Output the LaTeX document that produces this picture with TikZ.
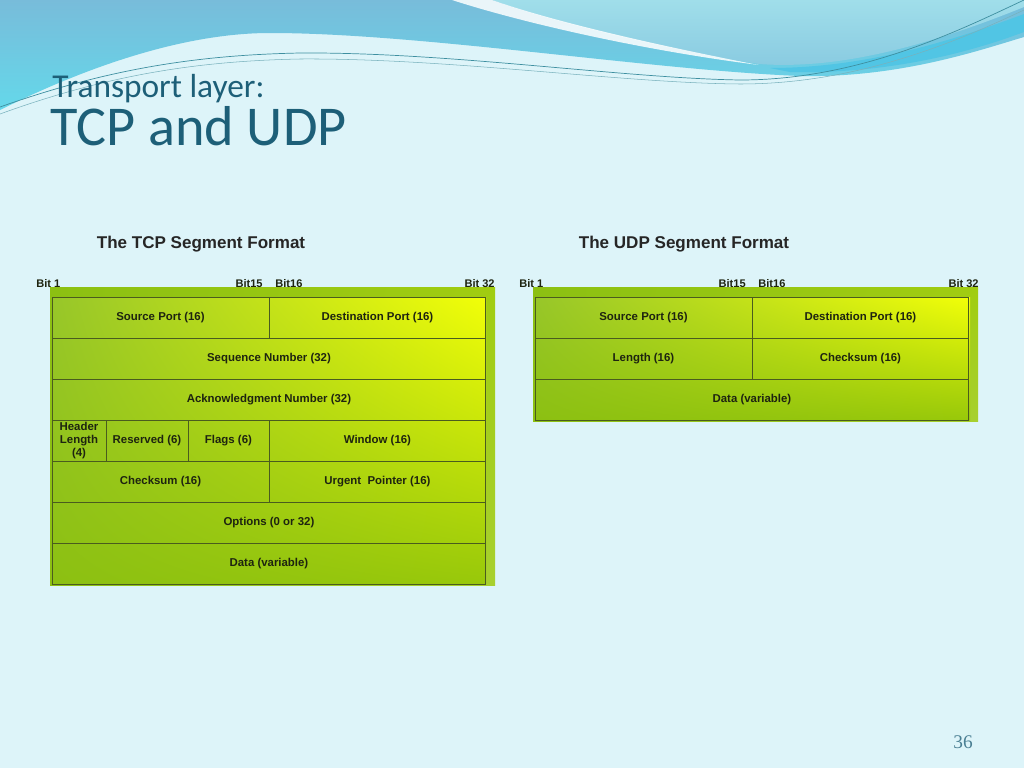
\documentclass[tikz,border=0pt]{standalone}
\usepackage{fontspec}
\setmainfont{Carlito}
\newfontfamily\arialfont{Liberation Sans}
\newfontfamily\numfont{Liberation Serif}
\usetikzlibrary{positioning, shadings}
\definecolor{BG_PALE}{HTML}{DDF4F9}
\definecolor{WAVE_TOP}{HTML}{78BCDA}
\definecolor{WAVE_LOW}{HTML}{64D8EA}
\definecolor{WAVE_SOFT}{HTML}{A0DEEA}
\definecolor{WAVE_DEEP}{HTML}{4CC0E2}
\definecolor{WAVE_LINE}{HTML}{3E8FA0}
\definecolor{TITLE_TEAL}{HTML}{1D5F78}
\definecolor{FLD_LINE}{HTML}{4A5C1E}
\definecolor{FLD_TEXT}{HTML}{1E2410}
\definecolor{G_LEFT}{HTML}{8CC012}
\definecolor{G_YEL}{HTML}{F2FF08}
\definecolor{G_MID}{HTML}{B4D808}
\definecolor{G_LOW}{HTML}{98C80A}
\tikzset{
  fld/.style={
    rectangle, draw=FLD_LINE, line width=0.5pt,
    minimum height=0.82cm, inner sep=0pt, outer sep=0pt,
    text centered, align=center, text=FLD_TEXT,
    font=\arialfont\bfseries\fontsize{6.5}{7.4}\selectfont},
  bitlbl/.style={
    inner sep=0pt, text=FLD_TEXT,
    font=\arialfont\bfseries\fontsize{6.3}{7}\selectfont},
  fmttitle/.style={
    inner sep=0pt, anchor=base, text=black!85,
    font=\arialfont\bfseries\fontsize{9.7}{11}\selectfont},
  greenbox/.style={
    upper left=G_LEFT!90!white, upper right=G_YEL, lower left=G_LEFT, lower right=G_LOW},
  greenrim/.style={
    upper left=G_LEFT, upper right=G_LEFT!80!G_YEL, lower left=G_LEFT, lower right=G_LOW!85!white},
}

\begin{document}
\begin{tikzpicture}[x=0.02cm, y=-0.02cm]

  % slide background and waves
  \fill[BG_PALE] (0,0) rectangle (1024,768);
  \useasboundingbox (0,0) rectangle (1024,768);
  \shade[top color=WAVE_TOP, bottom color=WAVE_LOW]
    (0,0) -- (1024,0) -- (1024,37)
    .. controls (980,50) and (900,78) .. (800,76)
    .. controls (650,70) and (420,33) .. (270,33)
    .. controls (180,33) and (80,70) .. (0,110) -- cycle;
  \fill[WAVE_DEEP!80!WAVE_LOW]
    (770,68) .. controls (870,68) and (960,38) .. (1024,14)
    -- (1024,32) .. controls (960,56) and (880,74) .. (790,72) -- cycle;
  \shade[top color=WAVE_SOFT, bottom color=WAVE_TOP!60!WAVE_SOFT]
    (492,0) .. controls (560,25) and (680,52) .. (759,64)
    .. controls (840,70) and (930,45) .. (1024,7) -- (1024,0) -- cycle;
  \fill[white, opacity=0.85]
    (452,0) .. controls (520,22) and (640,50) .. (759,65)
    .. controls (680,50) and (560,24) .. (492,0) -- cycle;
  \draw[WAVE_LINE, line width=0.4pt]
    (0,107) .. controls (110,68) and (200,55) .. (300,53)
    .. controls (450,52) and (620,78) .. (740,80)
    .. controls (860,80) and (960,30) .. (1024,0);
  \draw[WAVE_LINE!70, line width=0.3pt]
    (0,114) .. controls (110,74) and (200,61) .. (300,59)
    .. controls (450,58) and (620,83) .. (740,84)
    .. controls (860,84) and (960,40) .. (1024,10);

  % slide title
  \node[anchor=base west, inner sep=0pt, text=TITLE_TEAL, text depth=0pt,
        font=\fontsize{19}{22}\selectfont] (subttl) at (52,97) {Transport layer:};
  \node[anchor=base west, inner sep=0pt, text=TITLE_TEAL, text height=0.64em,
        font=\fontsize{32}{36}\selectfont] (mainttl) at (50,145) {TCP and UDP};

  % TCP segment
  \node[fmttitle] (tcpttl) at (201,248) {The TCP Segment Format};
  \shade[greenrim] (50,287) rectangle (495,585);
  \shade[greenbox] (52,297) rectangle (486,584);

  \node[bitlbl, anchor=base west] (tb1)  at (36,287)  {Bit 1};
  \node[bitlbl, anchor=base east] (tb15) at (263,287) {Bit15};
  \node[bitlbl, anchor=base west] (tb16) at (275,287) {Bit16};
  \node[bitlbl, anchor=base east] (tb32) at (495,287) {Bit 32};

  \node[fld, minimum width=4.34cm, anchor=north west] (tsrc) at (52,297) {Source Port (16)};
  \node[fld, minimum width=4.34cm, right=0pt of tsrc] (tdst) {Destination Port (16)};
  \node[fld, minimum width=8.68cm, anchor=north west] (tseq) at (tsrc.south west) {Sequence Number (32)};
  \node[fld, minimum width=8.68cm, below=0pt of tseq] (tack) {Acknowledgment Number (32)};
  \node[fld, minimum width=1.08cm, anchor=north west] (thlen) at (tack.south west) {Header\\Length\\(4)};
  \node[fld, minimum width=1.64cm, right=0pt of thlen] (tres) {Reserved (6)};
  \node[fld, minimum width=1.62cm, right=0pt of tres] (tflg) {Flags (6)};
  \node[fld, minimum width=4.34cm, right=0pt of tflg] (twin) {Window (16)};
  \node[fld, minimum width=4.34cm, anchor=north west] (tchk) at (thlen.south west) {Checksum (16)};
  \node[fld, minimum width=4.34cm, right=0pt of tchk] (turg) {Urgent\ \ Pointer (16)};
  \node[fld, minimum width=8.68cm, anchor=north west] (topt) at (tchk.south west) {Options (0 or 32)};
  \node[fld, minimum width=8.68cm, below=0pt of topt] (tdat) {Data (variable)};

  % UDP segment
  \node[fmttitle] (udpttl) at (684,248) {The UDP Segment Format};
  \shade[greenrim] (533,287) rectangle (978,421);
  \shade[greenbox] (535,297) rectangle (970,420);

  \node[bitlbl, anchor=base west] (ub1)  at (519,287) {Bit 1};
  \node[bitlbl, anchor=base east] (ub15) at (746,287) {Bit15};
  \node[bitlbl, anchor=base west] (ub16) at (758,287) {Bit16};
  \node[bitlbl, anchor=base east] (ub32) at (979,287) {Bit 32};

  \node[fld, minimum width=4.34cm, anchor=north west] (usrc) at (535,297) {Source Port (16)};
  \node[fld, minimum width=4.34cm, right=0pt of usrc] (udst) {Destination Port (16)};
  \node[fld, minimum width=4.34cm, anchor=north west] (ulen) at (usrc.south west) {Length (16)};
  \node[fld, minimum width=4.34cm, right=0pt of ulen] (uchk) {Checksum (16)};
  \node[fld, minimum width=8.68cm, anchor=north west] (udat) at (ulen.south west) {Data (variable)};

  % page number
  \node[anchor=base, inner sep=0pt, text=TITLE_TEAL!80,
        font=\numfont\fontsize{11}{12}\selectfont] (pgno) at (963,748) {36};

\end{tikzpicture}
\end{document}
